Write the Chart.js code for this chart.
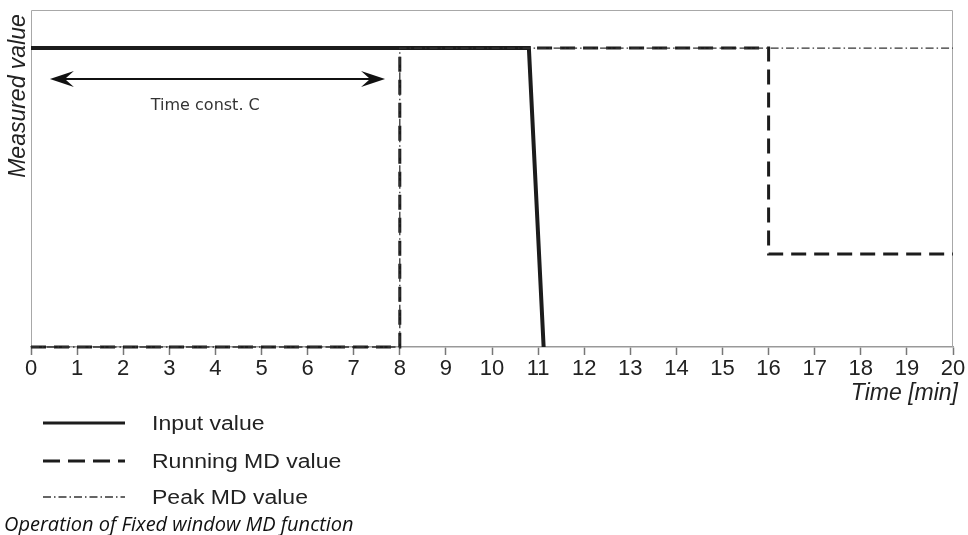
<!DOCTYPE html>
<html>
<head>
<meta charset="utf-8">
<script src="https://cdn.jsdelivr.net/npm/chart.js@4/dist/chart.umd.min.js"></script>
<style>
  html, body { margin: 0; padding: 0; background: #ffffff; }
  #wrap { width: 968px; height: 535px; position: relative; }
</style>
</head>
<body>
<div id="wrap"><canvas id="c" width="968" height="535"></canvas></div>
<script>
// ---- data ----
const xTicks = [0,1,2,3,4,5,6,7,8,9,10,11,12,13,14,15,16,17,18,19,20];
const inputX   = [0, 10.8, 11.12];
const inputY   = [88.7, 88.7, 0];
const runningX = [0, 8, 8, 16, 16, 20];
const runningY = [0, 0, 88.7, 88.7, 27.6, 27.6];
const peakX    = [0, 8, 8, 20];
const peakY    = [0, 0, 88.7, 88.7];
const seriesNames = ['Input value', 'Running MD value', 'Peak MD value'];
const arrowFromX = 0.41, arrowToX = 7.68, arrowAtY = 79.5;
const arrowLabel = 'Time const. C';
const arrowLabelX = 3.78, arrowLabelY = 72;
const xTitle = 'Time [min]';
const yTitle = 'Measured value';
const caption = 'Operation of Fixed window MD function';

const toPts = (xs, ys) => xs.map((x, i) => ({x: x, y: ys[i]}));

const styles = [
  {color: '#1c1c1c', width: 4, dash: []},
  {color: '#1c1c1c', width: 3, dash: [15, 8]},
  {color: '#333333', width: 1.3, dash: [8, 3, 1.5, 3]}
];

const decor = {
  id: 'decor',
  beforeDatasetsDraw(chart) {
    const {ctx, chartArea: a} = chart;
    ctx.save();
    ctx.strokeStyle = '#a8a8a8';
    ctx.lineWidth = 1;
    ctx.beginPath();
    ctx.moveTo(a.left + 0.5, a.bottom);
    ctx.lineTo(a.left + 0.5, a.top + 0.5);
    ctx.lineTo(a.right - 0.5, a.top + 0.5);
    ctx.lineTo(a.right - 0.5, a.bottom);
    ctx.stroke();
    ctx.restore();
  },
  afterDraw(chart) {
    const {ctx, chartArea: a} = chart;
    const xs = chart.scales.x, ys = chart.scales.y;
    ctx.save();
    // double arrow
    const x1 = xs.getPixelForValue(arrowFromX), x2 = xs.getPixelForValue(arrowToX);
    const ay = ys.getPixelForValue(arrowAtY);
    ctx.strokeStyle = '#111';
    ctx.fillStyle = '#111';
    ctx.lineWidth = 2;
    ctx.beginPath();
    ctx.moveTo(x1 + 8, ay); ctx.lineTo(x2 - 8, ay); ctx.stroke();
    const head = (tx, dir) => {
      ctx.beginPath();
      ctx.moveTo(tx, ay);
      ctx.lineTo(tx + dir * 24, ay - 8);
      ctx.lineTo(tx + dir * 15, ay);
      ctx.lineTo(tx + dir * 24, ay + 8);
      ctx.closePath();
      ctx.fill();
    };
    head(x1, 1); head(x2, -1);
    // arrow label
    ctx.font = '16px "DejaVu Sans"';
    ctx.fillStyle = '#333';
    ctx.textAlign = 'center';
    ctx.textBaseline = 'alphabetic';
    ctx.fillText(arrowLabel, xs.getPixelForValue(arrowLabelX), ys.getPixelForValue(arrowLabelY) + 6);

    // x title
    ctx.font = 'italic 23px "Liberation Sans", Arial, sans-serif';
    ctx.fillStyle = '#222';
    ctx.textAlign = 'right';
    ctx.textBaseline = 'alphabetic';
    ctx.fillText(xTitle, a.right + 5, 400);

    // y title
    ctx.save();
    ctx.translate(25, 96);
    ctx.rotate(-Math.PI / 2);
    ctx.textAlign = 'center';
    ctx.textBaseline = 'alphabetic';
    ctx.fillText(yTitle, 0, 0);
    ctx.restore();

    // legend
    const rows = [423, 461, 497];
    seriesNames.forEach((name, i) => {
      const s = styles[i];
      ctx.save();
      ctx.strokeStyle = s.color;
      ctx.lineWidth = i === 0 ? 3 : s.width;
      ctx.setLineDash(i === 1 ? [17, 8] : s.dash);
      ctx.beginPath();
      ctx.moveTo(43, rows[i]); ctx.lineTo(125, rows[i]);
      ctx.stroke();
      ctx.restore();
      ctx.save();
      ctx.translate(152, rows[i] + 1);
      ctx.scale(1.15, 1);
      ctx.font = '20px "Liberation Sans", Arial, sans-serif';
      ctx.fillStyle = '#222';
      ctx.textAlign = 'left';
      ctx.textBaseline = 'middle';
      ctx.fillText(name, 0, 0);
      ctx.restore();
    });

    // caption
    ctx.font = 'italic 20px "Open Sans", sans-serif';
    ctx.fillStyle = '#111';
    ctx.textAlign = 'left';
    ctx.textBaseline = 'alphabetic';
    ctx.fillText(caption, 4, 531);
    ctx.restore();
  }
};

const mk = (label, xs, ys, s) => ({
  label: label,
  data: toPts(xs, ys),
  borderColor: s.color,
  borderWidth: s.width,
  borderDash: s.dash,
  pointRadius: 0,
  fill: false,
  tension: 0,
  clip: false
});

new Chart(document.getElementById('c'), {
  type: 'line',
  data: {
    datasets: [
      mk(seriesNames[2], peakX, peakY, styles[2]),
      mk(seriesNames[1], runningX, runningY, styles[1]),
      mk(seriesNames[0], inputX, inputY, styles[0])
    ]
  },
  options: {
    responsive: false,
    animation: false,
    devicePixelRatio: 1,
    layout: { padding: { left: 31, right: 15, top: 10, bottom: 0 } },
    plugins: { legend: { display: false }, tooltip: { enabled: false } },
    scales: {
      x: {
        type: 'linear',
        min: 0, max: 20,
        afterFit(scale) { scale.height = 188; },
        afterBuildTicks(scale) { scale.ticks = xTicks.map(v => ({value: v})); },
        ticks: {
          font: { family: '"Liberation Sans", Arial, sans-serif', size: 22 },
          color: '#222',
          padding: 1,
          maxRotation: 0,
          autoSkip: false
        },
        grid: { drawOnChartArea: false, drawTicks: true, tickLength: 8, tickColor: '#777', tickWidth: 1.5 },
        border: { display: true, color: '#999', width: 1.5 }
      },
      y: {
        display: false,
        min: 0, max: 100
      }
    }
  },
  plugins: [decor]
});
</script>
</body>
</html>
